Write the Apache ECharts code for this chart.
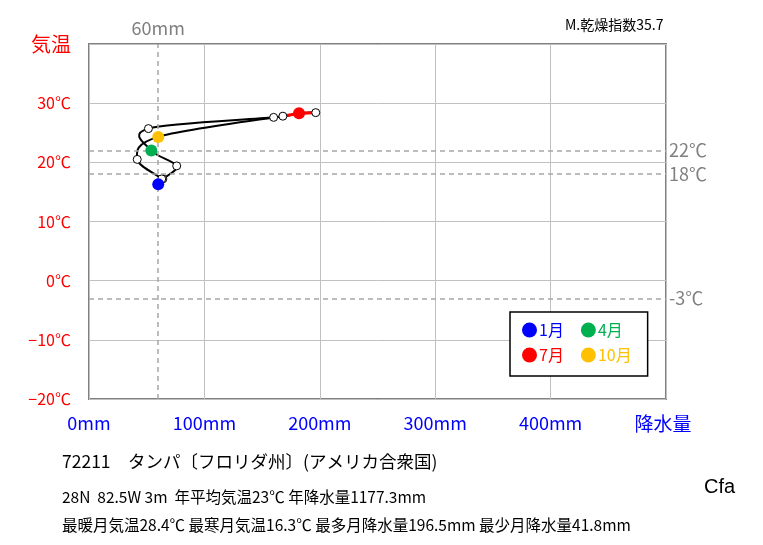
<!DOCTYPE html>
<html><head><meta charset="utf-8">
<script src="https://cdn.jsdelivr.net/npm/echarts@6/dist/echarts.min.js"></script>
<style>html,body{margin:0;padding:0;background:#fff}#c{width:763px;height:545px}</style>
</head><body><div id="c"></div>
<script>
// Monthly data (Jan..Dec)
const months = ['1月','2月','3月','4月','5月','6月','7月','8月','9月','10月','11月','12月'];
const precip = [60, 64, 76, 54, 51.5, 160, 182, 196.5, 168, 60, 41.8, 63];
const temp   = [16.3, 17.2, 19.4, 22.0, 25.7, 27.6, 28.3, 28.4, 27.8, 24.3, 20.5, 17.2];
// Highlighted months (index) and colours
const highlightIdx = [0, 3, 6, 9];
const highlightColors = ['#0000FF', '#00B050', '#FF0000', '#FFC000'];
// Reference lines
const tempRefs = [22, 18, -3];
const precipRef = 60;
// Axis ticks
const yTicks = [-20, -10, 0, 10, 20, 30, 40];
const xTicks = [0, 100, 200, 300, 400, 500];
// Texts
const titleText = '72211\u3000タンパ〔フロリダ州〕(アメリカ合衆国)';
const infoLine1 = '28N  82.5W 3m  年平均気温23℃ 年降水量1177.3mm';
const infoLine2 = '最暖月気温28.4℃ 最寒月気温16.3℃ 最多月降水量196.5mm 最少月降水量41.8mm';
const aridity = 'M.乾燥指数35.7';
const koppen = 'Cfa';

const FONT = '"Noto Sans CJK JP", "Noto Sans", sans-serif';
const n = precip.length;
const pts = precip.map((p, i) => [p, temp[i]]);

const chart = echarts.init(document.getElementById('c'));

// closed smooth loop (Catmull-Rom style, like a spreadsheet smoothed line), via axis coordinates
function renderLoop(params, api) {
  const i = params.dataIndex;
  const P = k => api.coord([precip[(k + n) % n], temp[(k + n) % n]]);
  const p0 = P(i - 1), p1 = P(i), p2 = P(i + 1), p3 = P(i + 2);
  const t = 1 / 6;
  return {
    type: 'bezierCurve',
    shape: {
      x1: p1[0], y1: p1[1], x2: p2[0], y2: p2[1],
      cpx1: p1[0] + (p2[0] - p0[0]) * t, cpy1: p1[1] + (p2[1] - p0[1]) * t,
      cpx2: p2[0] - (p3[0] - p1[0]) * t, cpy2: p2[1] - (p3[1] - p1[1]) * t
    },
    style: { stroke: '#000', lineWidth: 2, fill: null }
  };
}

const series = [
  {
    type: 'custom', name: 'loop', data: pts, renderItem: renderLoop, z: 2, silent: true,
    encode: { x: 0, y: 1 },
    markLine: {
      silent: true, symbol: ['none', 'none'],
      lineStyle: { color: '#A6A6A6', type: [5, 4], width: 1.5 },
      data: tempRefs.map(t => ({ yAxis: t, label: { show: true, position: 'end', distance: 3, formatter: t + '℃', color: '#808080', fontSize: 18, fontFamily: FONT } }))
        .concat([{ xAxis: precipRef, label: { show: true, position: 'end', distance: 7, formatter: precipRef + 'mm', color: '#808080', fontSize: 18, fontFamily: FONT } }])
    }
  },
  {
    type: 'line', name: 'julseg', data: [pts[8], pts[6], pts[7]], showSymbol: false, z: 3,
    lineStyle: { color: '#FF0000', width: 3 }
  },
  {
    type: 'scatter', name: 'months', data: pts, symbolSize: 8, z: 4,
    itemStyle: { color: '#fff', borderColor: '#000', borderWidth: 1, opacity: 1 }
  }
].concat(highlightIdx.map((idx, k) => ({
  type: 'scatter', name: months[idx], data: [pts[idx]], symbolSize: 12, z: 5,
  itemStyle: { color: highlightColors[k], opacity: 1 }
})));

chart.setOption({
  animation: false,
  backgroundColor: '#fff',
  grid: { left: 89, right: 97, top: 44, bottom: 146, show: true, borderColor: '#808080', borderWidth: 2 },
  xAxis: {
    type: 'value', min: xTicks[0], max: xTicks[xTicks.length - 1], interval: 100,
    axisLine: { show: false }, axisTick: { show: false },
    splitLine: { lineStyle: { color: '#C0C0C0', width: 1 } },
    axisLabel: {
      margin: 15, color: '#0000FF', fontSize: 18, fontFamily: FONT,
      formatter: v => v === 500 ? '{b|降水量}' : v + 'mm',
      rich: { b: { fontSize: 19, color: '#0000FF', fontFamily: FONT, padding: [0, 6, 0, 0] } }
    }
  },
  yAxis: {
    type: 'value', min: yTicks[0], max: yTicks[yTicks.length - 1], interval: 10,
    axisLine: { show: false }, axisTick: { show: false },
    splitLine: { lineStyle: { color: '#C0C0C0', width: 1 } },
    axisLabel: {
      margin: 18, color: '#FF0000', fontSize: 16, fontFamily: FONT,
      formatter: v => v === 40 ? '{b|気温}' : (v < 0 ? '\u2212' + Math.abs(v) : v) + '℃',
      rich: { b: { fontSize: 20, color: '#FF0000', fontFamily: FONT } }
    }
  },
  legend: {
    data: highlightIdx.map((idx, k) => ({ name: months[idx], icon: 'circle', textStyle: { color: highlightColors[k] } })),
    formatter: name => name + '\u2002',
    left: 510, top: 312, width: 128, orient: 'horizontal',
    itemWidth: 15, itemHeight: 15, itemGap: 9,
    padding: [10, 8, 13, 12],
    borderColor: '#000', borderWidth: 1.5, backgroundColor: '#fff',
    textStyle: { fontSize: 16, fontFamily: FONT, padding: [0, 0, 0, -3] },
    selectedMode: false
  },
  graphic: [
    { type: 'text', left: 565, top: 18, style: { text: aridity, fontSize: 14, fill: '#000', fontFamily: FONT } },
    { type: 'text', left: 62, top: 453, style: { text: titleText, fontSize: 17.5, fill: '#000', fontFamily: FONT } },
    { type: 'text', left: 62, top: 489, style: { text: infoLine1, fontSize: 15.5, fill: '#000', fontFamily: FONT } },
    { type: 'text', left: 62, top: 517, style: { text: infoLine2, fontSize: 15.5, fill: '#000', fontFamily: FONT } },
    { type: 'text', left: 704, top: 477, style: { text: koppen, fontSize: 20, fill: '#000', fontFamily: '"Liberation Sans", Arial, sans-serif' } }
  ],
  series: series
});
</script></body></html>
